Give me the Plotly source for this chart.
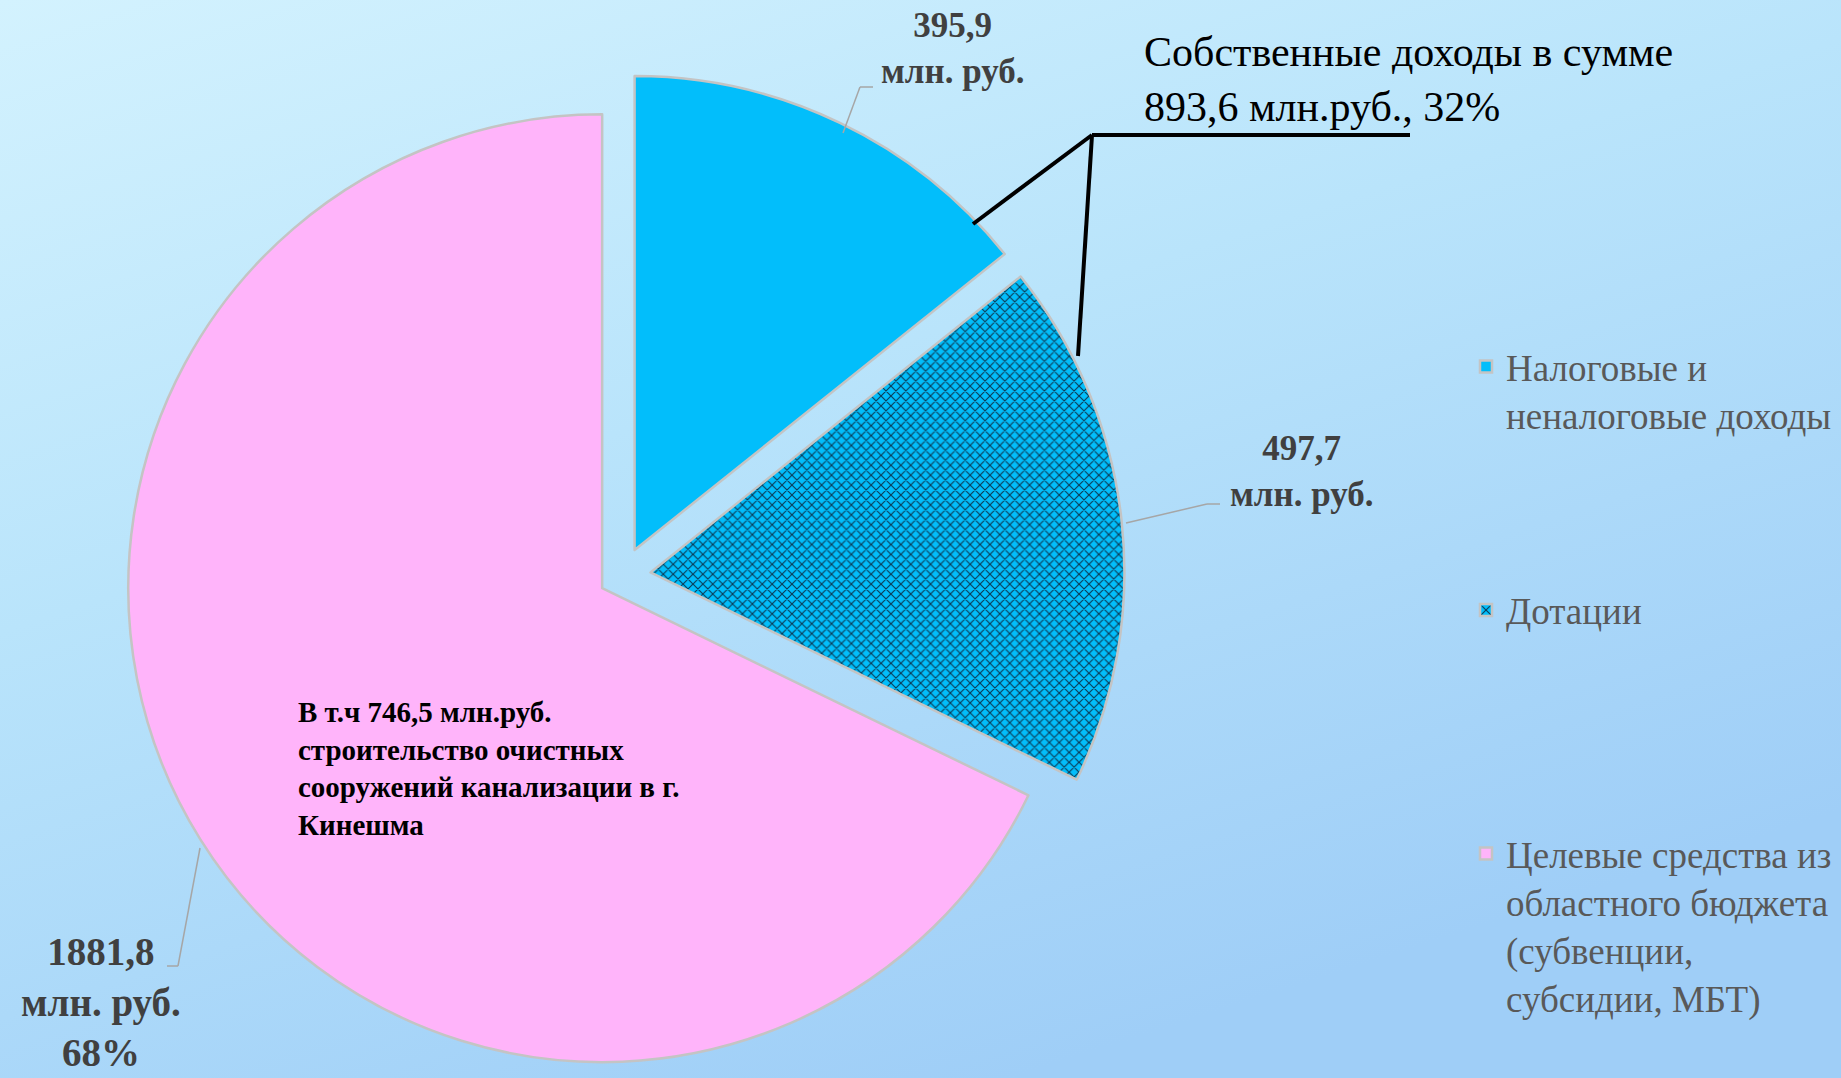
import base64
import plotly.graph_objects as go

# ---- data ----
categories = [
    "Налоговые и<br>неналоговые доходы",
    "Дотации",
    "Целевые средства из<br>областного бюджета<br>(субвенции,<br>субсидии, МБТ)",
]
values = [395.9, 497.7, 1881.8]
value_labels = ["395,9<br>млн. руб.", "497,7<br>млн. руб.", "1881,8<br>млн. руб.<br>68%"]
own_income_note = "Собственные доходы в сумме<br>893,6 млн.руб., 32%"
target_note = "В т.ч 746,5 млн.руб.<br>строительство очистных<br>сооружений канализации в г.<br>Кинешма"

W, H = 1841, 1078
SERIF = "Liberation Serif, Times New Roman, serif"

# legend labels padded with blank lines for vertical spacing
pad = "<br>\u00a0"
legend_labels = [
    categories[0] + pad * 3,
    categories[1] + pad * 4,
    categories[2],
]

# ---- background gradient (SVG data uri) ----
svg = (
    '<svg xmlns="http://www.w3.org/2000/svg" width="1841" height="1078" preserveAspectRatio="none">'
    '<defs><linearGradient id="g" x1="0" y1="0" x2="0.55" y2="1">'
    '<stop offset="0" stop-color="#D3F2FE"/>'
    '<stop offset="0.45" stop-color="#B9E4FB"/>'
    '<stop offset="1" stop-color="#9FCEF7"/>'
    '</linearGradient></defs>'
    '<rect width="1841" height="1078" fill="url(#g)"/></svg>'
)
bg_src = "data:image/svg+xml;base64," + base64.b64encode(svg.encode()).decode()

fig = go.Figure()
fig.add_trace(go.Pie(
    labels=legend_labels,
    values=values,
    sort=False,
    direction="clockwise",
    rotation=0,
    pull=[0.06, 0.06, 0.05],
    textinfo="none",
    hoverinfo="value+percent",
    marker=dict(
        colors=["#02BEFB", "#02BEFB", "#FFB4FA"],
        line=dict(color="#C4C4C4", width=2.5),
        pattern=dict(shape=["", "x", ""], fgcolor="#0B3A55",
                     bgcolor=["#02BEFB", "#02BEFB", "#FFB4FA"],
                     size=7, solidity=0.3, fillmode="replace"),
    ),
    domain=dict(x=[0, 0.676], y=[0, 0.932]),
))

def px(x):
    return x / W

def py(y):
    return 1 - y / H

ann = []
ann.append(dict(x=px(953), y=py(48), text="<b>" + value_labels[0] + "</b>",
                font=dict(family=SERIF, size=35, color="#404040")))
ann.append(dict(x=px(1301), y=py(471), text="<b>" + value_labels[1] + "</b>",
                font=dict(family=SERIF, size=35, color="#404040")))
ann.append(dict(x=px(101), y=py(1076), text="<b>" + value_labels[2] + "</b>",
                yanchor="bottom",
                font=dict(family=SERIF, size=39, color="#404040")))
ann.append(dict(x=px(1142), y=py(80), text=own_income_note, xanchor="left", align="left",
                font=dict(family=SERIF, size=42, color="#000000")))
ann.append(dict(x=px(296), y=py(768), text="<b>" + target_note + "</b>", xanchor="left", align="left",
                font=dict(family=SERIF, size=29, color="#000000")))
for a in ann:
    a.update(xref="paper", yref="paper", showarrow=False)
    a.setdefault("xanchor", "center")
    a.setdefault("yanchor", "middle")

shapes = []
def seg(x0, y0, x1, y1, color, width):
    shapes.append(dict(type="line", xref="paper", yref="paper",
                       x0=px(x0), y0=py(y0), x1=px(x1), y1=py(y1),
                       line=dict(color=color, width=width)))

# callout bracket for own income
seg(1410, 135, 1092, 135, "#000000", 4)
seg(1092, 135, 973, 224, "#000000", 4)
seg(1092, 135, 1078, 356, "#000000", 4)
# gray leader lines
seg(873, 87, 860, 87, "#A6A6A6", 1.5)
seg(860, 87, 843, 133, "#A6A6A6", 1.5)
seg(1220, 504, 1207, 504, "#A6A6A6", 1.5)
seg(1207, 504, 1126, 523, "#A6A6A6", 1.5)
seg(167, 966, 178, 966, "#A6A6A6", 1.5)
seg(178, 966, 200, 848, "#A6A6A6", 1.5)

fig.update_layout(
    width=W, height=H,
    margin=dict(l=0, r=0, t=0, b=0, autoexpand=False),
    paper_bgcolor="#BDE6FB",
    plot_bgcolor="rgba(0,0,0,0)",
    showlegend=True,
    legend=dict(
        x=1466 / W, y=1 - 336 / H, xanchor="left", yanchor="top",
        xref="paper", yref="paper",
        font=dict(family=SERIF, size=37, color="#595959"),
        bgcolor="rgba(0,0,0,0)", valign="top", traceorder="normal",
    ),
    annotations=ann,
    shapes=shapes,
    images=[dict(source=bg_src, xref="paper", yref="paper", x=0, y=1, sizex=1, sizey=1,
                 sizing="stretch", layer="below", xanchor="left", yanchor="top")],
)

fig.write_html(
    "out.html",
    config={"displayModeBar": False},
    post_script="document.body.style.margin='0';document.body.style.overflow='hidden';",
)
